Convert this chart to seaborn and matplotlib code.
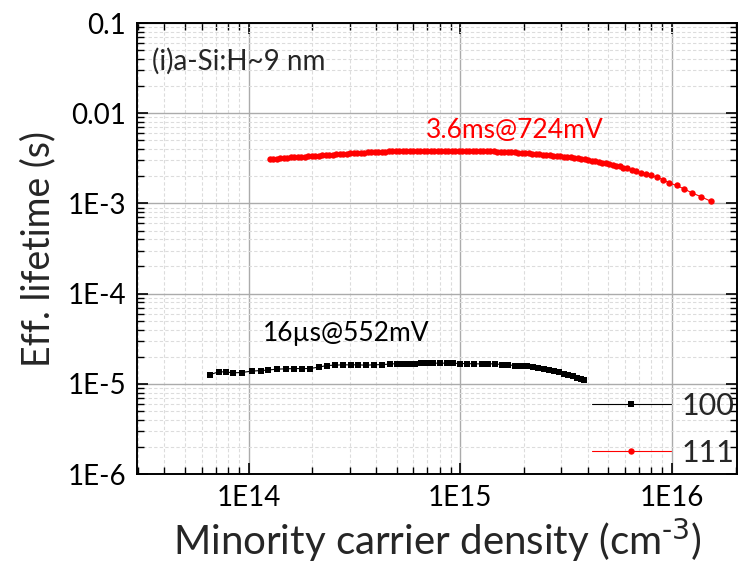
import numpy as np
import pandas as pd
import seaborn as sns
import matplotlib
matplotlib.use("Agg")
import matplotlib.pyplot as plt
from matplotlib.ticker import FixedLocator, LogLocator, NullFormatter

# (100) wafer: minority carrier density (cm^-3) and effective lifetime (s)
n_100 = [6.54e13, 7.21e13, 7.78e13, 8.40e13, 9.27e13, 1.033e14, 1.140e14, 1.230e14,
         1.356e14, 1.496e14, 1.633e14, 1.781e14, 1.943e14, 2.143e14, 2.338e14, 2.551e14,
         2.783e14, 3.036e14, 3.276e14, 3.574e14, 3.90e14, 4.255e14, 4.64e14, 5.01e14,
         5.35e14, 5.71e14, 6.09e14, 6.50e14, 6.94e14, 7.41e14, 8.00e14, 8.63e14,
         9.21e14, 9.94e14, 1.073e15, 1.158e15, 1.264e15, 1.349e15, 1.456e15, 1.571e15,
         1.678e15, 1.811e15, 1.932e15, 2.063e15, 2.202e15, 2.325e15, 2.482e15, 2.62e15,
         2.768e15, 2.92e15, 3.085e15, 3.223e15, 3.40e15, 3.556e15, 3.715e15, 3.837e15]
tau_100 = [1.259e-5, 1.357e-5, 1.357e-5, 1.323e-5, 1.334e-5, 1.382e-5, 1.403e-5, 1.418e-5,
           1.454e-5, 1.465e-5, 1.476e-5, 1.476e-5, 1.476e-5, 1.530e-5, 1.594e-5, 1.610e-5,
           1.623e-5, 1.623e-5, 1.623e-5, 1.610e-5, 1.623e-5, 1.635e-5, 1.652e-5, 1.677e-5,
           1.677e-5, 1.677e-5, 1.677e-5, 1.694e-5, 1.694e-5, 1.694e-5, 1.694e-5, 1.694e-5,
           1.694e-5, 1.677e-5, 1.677e-5, 1.664e-5, 1.664e-5, 1.664e-5, 1.664e-5, 1.635e-5,
           1.623e-5, 1.594e-5, 1.582e-5, 1.570e-5, 1.542e-5, 1.514e-5, 1.476e-5, 1.439e-5,
           1.392e-5, 1.347e-5, 1.290e-5, 1.248e-5, 1.217e-5, 1.174e-5, 1.144e-5, 1.107e-5]

# (111) wafer
n_111 = [1.257e14, 1.306e14, 1.357e14, 1.410e14, 1.464e14, 1.521e14, 1.579e14, 1.640e14,
         1.705e14, 1.771e14, 1.840e14, 1.911e14, 1.986e14, 2.063e14, 2.143e14, 2.226e14,
         2.313e14, 2.403e14, 2.496e14, 2.593e14, 2.693e14, 2.798e14, 2.906e14, 3.019e14,
         3.136e14, 3.258e14, 3.385e14, 3.516e14, 3.653e14, 3.795e14, 3.942e14, 4.095e14,
         4.254e14, 4.419e14, 4.591e14, 4.769e14, 4.955e14, 5.147e14, 5.347e14, 5.554e14,
         5.77e14, 5.994e14, 6.23e14, 6.47e14, 6.72e14, 6.98e14, 7.25e14, 7.53e14,
         7.83e14, 8.13e14, 8.45e14, 8.78e14, 9.12e14, 9.47e14, 9.84e14, 1.022e15,
         1.062e15, 1.103e15, 1.146e15, 1.190e15, 1.236e15, 1.284e15, 1.334e15, 1.386e15,
         1.440e15, 1.496e15, 1.554e15, 1.614e15, 1.677e15, 1.742e15, 1.810e15, 1.880e15,
         1.953e15, 2.029e15, 2.108e15, 2.190e15, 2.275e15, 2.363e15, 2.455e15, 2.550e15,
         2.650e15, 2.753e15, 2.860e15, 2.971e15, 3.086e15, 3.206e15, 3.331e15, 3.460e15,
         3.594e15, 3.733e15, 3.879e15, 4.030e15, 4.186e15, 4.348e15, 4.518e15, 4.693e15,
         4.875e15, 5.064e15, 5.261e15, 5.465e15, 5.676e15, 5.896e15, 6.126e15,
         6.449e15, 6.76e15, 7.11e15, 7.51e15, 7.96e15, 8.47e15, 9.04e15, 9.71e15,
         1.052e16, 1.140e16, 1.243e16, 1.367e16, 1.524e16]
tau_111 = [3.07e-3, 3.10e-3, 3.12e-3, 3.15e-3, 3.18e-3, 3.21e-3, 3.24e-3, 3.26e-3,
           3.28e-3, 3.30e-3, 3.31e-3, 3.32e-3, 3.34e-3, 3.36e-3, 3.38e-3, 3.40e-3,
           3.41e-3, 3.44e-3, 3.47e-3, 3.50e-3, 3.52e-3, 3.54e-3, 3.56e-3, 3.58e-3,
           3.60e-3, 3.62e-3, 3.64e-3, 3.66e-3, 3.67e-3, 3.68e-3, 3.69e-3, 3.71e-3,
           3.73e-3, 3.75e-3, 3.77e-3, 3.79e-3, 3.80e-3, 3.80e-3, 3.81e-3, 3.82e-3,
           3.83e-3, 3.84e-3, 3.84e-3, 3.85e-3, 3.85e-3, 3.86e-3, 3.86e-3, 3.86e-3,
           3.86e-3, 3.86e-3, 3.86e-3, 3.86e-3, 3.86e-3, 3.86e-3, 3.86e-3, 3.86e-3,
           3.85e-3, 3.84e-3, 3.84e-3, 3.83e-3, 3.83e-3, 3.82e-3, 3.81e-3, 3.79e-3,
           3.78e-3, 3.76e-3, 3.75e-3, 3.73e-3, 3.71e-3, 3.69e-3, 3.68e-3, 3.65e-3,
           3.63e-3, 3.60e-3, 3.58e-3, 3.55e-3, 3.53e-3, 3.50e-3, 3.47e-3, 3.44e-3,
           3.42e-3, 3.39e-3, 3.36e-3, 3.33e-3, 3.31e-3, 3.27e-3, 3.24e-3, 3.20e-3,
           3.17e-3, 3.12e-3, 3.08e-3, 3.03e-3, 2.99e-3, 2.94e-3, 2.89e-3, 2.84e-3,
           2.79e-3, 2.74e-3, 2.69e-3, 2.63e-3, 2.57e-3, 2.50e-3, 2.44e-3,
           2.34e-3, 2.26e-3, 2.19e-3, 2.13e-3, 2.04e-3, 1.95e-3, 1.84e-3, 1.69e-3,
           1.58e-3, 1.45e-3, 1.31e-3, 1.19e-3, 1.06e-3]

x_ticks = [1e14, 1e15, 1e16]
x_labels = ["1E14", "1E15", "1E16"]
y_ticks = [1e-6, 1e-5, 1e-4, 1e-3, 1e-2, 1e-1]
y_labels = ["1E-6", "1E-5", "1E-4", "1E-3", "0.01", "0.1"]

sns.set_theme(style="ticks")
plt.rcParams["font.family"] = ["Lato", "DejaVu Sans"]
plt.rcParams["mathtext.default"] = "regular"

df100 = pd.DataFrame({"n": n_100, "tau": tau_100})
df111 = pd.DataFrame({"n": n_111, "tau": tau_111})

fig = plt.figure(figsize=(7.39, 5.77), dpi=100)
ax = fig.add_axes([0.1854, 0.1785, 0.8119, 0.7816])

sns.lineplot(data=df100, x="n", y="tau", ax=ax, color="black", marker="s",
             markersize=4.0, markeredgewidth=0, linewidth=0.8, sort=False,
             estimator=None, label="100")
sns.lineplot(data=df111, x="n", y="tau", ax=ax, color="#ff0000", marker="o",
             markersize=4.6, markeredgewidth=0, linewidth=0.8, sort=False,
             estimator=None, label="111")

ax.set_xscale("log")
ax.set_yscale("log")
ax.set_xlim(2.97e13, 2.03e16)
ax.set_ylim(1e-6, 1e-1)

ax.xaxis.set_major_locator(FixedLocator(x_ticks))
ax.set_xticklabels(x_labels)
ax.yaxis.set_major_locator(FixedLocator(y_ticks))
ax.set_yticklabels(y_labels)
ax.xaxis.set_minor_locator(LogLocator(base=10, subs=np.arange(2, 10), numticks=20))
ax.yaxis.set_minor_locator(LogLocator(base=10, subs=np.arange(2, 10), numticks=20))
ax.xaxis.set_minor_formatter(NullFormatter())
ax.yaxis.set_minor_formatter(NullFormatter())

ax.grid(True, which="major", color="#ababab", linewidth=1.0, linestyle="-")
ax.grid(True, which="minor", color="#dcdcdc", linewidth=0.8, linestyle=(0, (3, 2)))
ax.set_axisbelow(True)

ax.tick_params(which="both", direction="in", top=True, right=True, colors="black")
ax.tick_params(which="major", length=8, width=1.2, labelsize=20, pad=8)
ax.tick_params(which="minor", length=5, width=1.0)
for s in ax.spines.values():
    s.set_linewidth(1.4)
    s.set_color("black")

ax.set_xlabel("Minority carrier density (cm$^{\\text{-3}}$)", fontsize=29, labelpad=4)
ax.set_ylabel("Eff. lifetime (s)", fontsize=27, labelpad=8)

ax.text(0.025, 0.915, "(i)a-Si:H~9 nm", transform=ax.transAxes, fontsize=20,
        ha="left", va="center")
ax.text(1.80e15, 6.43e-3, "3.6ms@724mV", color="#ff0000", fontsize=19,
        ha="center", va="center")
ax.text(2.90e14, 3.57e-5, "16\u00b5s@552mV", color="black", fontsize=19,
        ha="center", va="center")

leg = ax.legend(loc="lower right", frameon=False, fontsize=22, handlelength=2.6,
                handletextpad=0.35, labelspacing=0.62, borderaxespad=0.0,
                borderpad=0.0, bbox_to_anchor=(0.996, 0.016))

fig.savefig("out.png", dpi=100)
